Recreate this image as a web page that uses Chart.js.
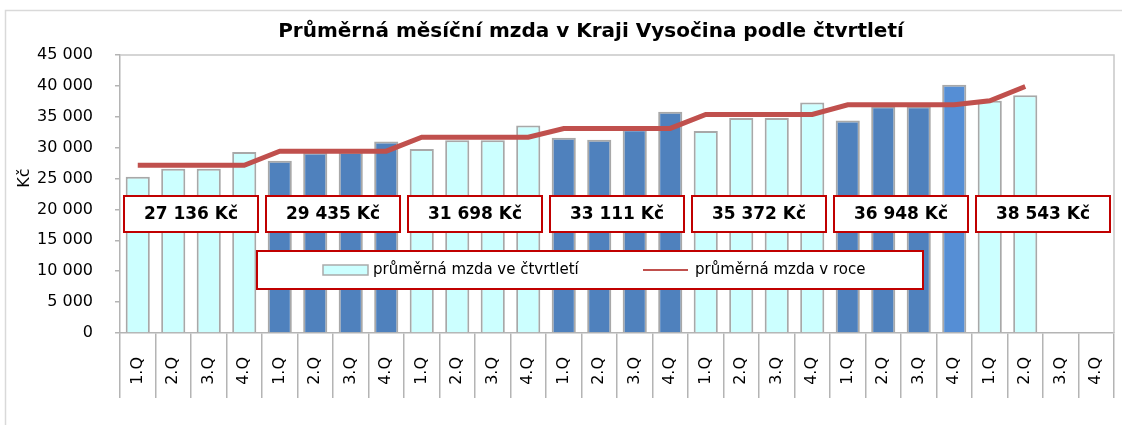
<!DOCTYPE html>
<html>
<head>
<meta charset="utf-8">
<script src="https://cdn.jsdelivr.net/npm/chart.js@4.4.1/dist/chart.umd.min.js"></script>
<style>
  html, body { margin: 0; padding: 0; background: #fff; }
</style>
</head>
<body>
<canvas id="wageChart" width="1122" height="425"></canvas>
<script>
const chartTitle = "Průměrná měsíční mzda v Kraji Vysočina podle čtvrtletí";
const axisTitle = "Kč";
const barLabel = "průměrná mzda ve čtvrtletí";
const lineLabel = "průměrná mzda v roce";

const quarterLabels = [
    "1.Q", "2.Q", "3.Q", "4.Q", "1.Q", "2.Q", "3.Q", "4.Q",
    "1.Q", "2.Q", "3.Q", "4.Q", "1.Q", "2.Q", "3.Q", "4.Q",
    "1.Q", "2.Q", "3.Q", "4.Q", "1.Q", "2.Q", "3.Q", "4.Q",
    "1.Q", "2.Q", "3.Q", "4.Q"
];

// quarterly average wage (bars)
const quarterlyWage = [
    25300, 26600, 26600, 29300,
    27900, 29200, 29300, 31000,
    29800, 31200, 31200, 33600,
    31600, 31300, 33000, 35800,
    32700, 34800, 34800, 37300,
    34400, 36700, 36700, 40200,
    37600, 38500, null, null
];

// yearly average wage (line)
const annualLine = [
    27136, 27136, 27136, 27136,
    29435, 29435, 29435, 29435,
    31698, 31698, 31698, 31698,
    33111, 33111, 33111, 33111,
    35372, 35372, 35372, 35372,
    36948, 36948, 36948, 36948,
    37600, 39900, null, null
];

// boxed yearly figures
const annualAverage = [27136, 29435, 31698, 33111, 35372, 36948, 38543];

const yMax = 45000;
const yStep = 5000;

function fmt(v) {
    return String(v).replace(/\B(?=(\d{3})+(?!\d))/g, " ");
}

const LIGHT = "#ccffff";
const DARK = "#4f81bd";
const HILITE = "#558ed5";
const barColors = quarterlyWage.map((v, i) => {
    if (i === 23) return HILITE;
    return Math.floor(i / 4) % 2 === 1 ? DARK : LIGHT;
});

Chart.defaults.font.family = "'DejaVu Sans', sans-serif";
Chart.defaults.color = "#000";

const decor = {
    id: "decor",
    beforeDraw(chart) {
        const ctx = chart.ctx;
        ctx.save();
        ctx.fillStyle = "#fff";
        ctx.fillRect(0, 0, chart.width, chart.height);
        ctx.strokeStyle = "#d9d9d9";
        ctx.lineWidth = 1.5;
        ctx.strokeRect(5.5, 10.5, chart.width + 20, chart.height + 20);
        ctx.restore();
    },
    afterDatasetsDraw(chart) {
        const {ctx, chartArea: a, scales: {x}} = chart;
        ctx.save();
        // plot frame top/right
        ctx.strokeStyle = "#c8c8c8";
        ctx.lineWidth = 1.5;
        ctx.beginPath();
        ctx.moveTo(a.left, a.top);
        ctx.lineTo(a.right, a.top);
        ctx.lineTo(a.right, a.bottom);
        ctx.stroke();

        // yearly boxes
        ctx.font = "bold 17px 'DejaVu Sans'";
        ctx.textAlign = "center";
        ctx.textBaseline = "middle";
        annualAverage.forEach((v, k) => {
            const cx = (x.getPixelForValue(4 * k + 1) + x.getPixelForValue(4 * k + 2)) / 2;
            const w = 134, h = 36, top = a.top + 141;
            ctx.fillStyle = "#fff";
            ctx.fillRect(cx - w / 2, top, w, h);
            ctx.strokeStyle = "#c00000";
            ctx.lineWidth = 2;
            ctx.strokeRect(cx - w / 2, top, w, h);
            ctx.fillStyle = "#000";
            ctx.fillText(fmt(v) + " Kč", cx, top + h / 2 + 1);
        });

        // legend box
        ctx.fillStyle = "#fff";
        ctx.fillRect(257, 251, 666, 38);
        ctx.strokeStyle = "#c00000";
        ctx.lineWidth = 2;
        ctx.strokeRect(257, 251, 666, 38);
        ctx.fillStyle = LIGHT;
        ctx.fillRect(323, 265, 45, 10);
        ctx.strokeStyle = "#aaaaaa";
        ctx.lineWidth = 1.5;
        ctx.strokeRect(323, 265, 45, 10);
        ctx.strokeStyle = "#c0504d";
        ctx.lineWidth = 2;
        ctx.beginPath();
        ctx.moveTo(643, 270);
        ctx.lineTo(688, 270);
        ctx.stroke();
        ctx.font = "15px 'DejaVu Sans'";
        ctx.textAlign = "left";
        ctx.fillStyle = "#000";
        ctx.fillText(barLabel, 373, 270);
        ctx.fillText(lineLabel, 695, 270);
        ctx.restore();
    },
    afterDraw(chart) {
        const ctx = chart.ctx;
        ctx.save();
        ctx.fillStyle = "#000";
        ctx.textAlign = "center";
        ctx.textBaseline = "middle";
        ctx.font = "bold 20px 'DejaVu Sans'";
        ctx.fillText(chartTitle, 591, 32);
        ctx.translate(25, 178);
        ctx.rotate(-Math.PI / 2);
        ctx.font = "16px 'DejaVu Sans'";
        ctx.fillText(axisTitle, 0, 0);
        ctx.restore();
    }
};

const wageChart = new Chart(document.getElementById("wageChart"), {
    data: {
        labels: quarterLabels,
        datasets: [
            {
                type: "line",
                label: lineLabel,
                data: annualLine,
                borderColor: "#c0504d",
                borderWidth: 5,
                pointRadius: 0,
                tension: 0,
                order: 0
            },
            {
                type: "bar",
                label: barLabel,
                data: quarterlyWage,
                backgroundColor: barColors,
                borderColor: "#a8a8a8",
                borderWidth: 2,
                barPercentage: 0.68,
                categoryPercentage: 1,
                order: 1
            }
        ]
    },
    options: {
        responsive: false,
        animation: false,
        layout: {padding: {top: 55, right: 8, bottom: 0, left: 0}},
        plugins: {
            legend: {display: false},
            tooltip: {enabled: false},
            title: {display: false}
        },
        scales: {
            x: {
                grid: {offset: true, drawOnChartArea: false, tickLength: 65, color: "#b4b4b4", lineWidth: 1.5},
                border: {color: "#b4b4b4", width: 1.5},
                ticks: {autoSkip: false, maxRotation: 90, minRotation: 90, padding: -41, font: {size: 16}},
                afterFit(s) { s.height = 92; }
            },
            y: {
                min: 0,
                max: yMax,
                grid: {drawOnChartArea: false, tickLength: 5, color: "#b4b4b4", lineWidth: 1.5},
                border: {color: "#b4b4b4", width: 1.5},
                ticks: {stepSize: yStep, padding: 22, font: {size: 16}, callback: v => fmt(v)},
                afterFit(s) { s.width = 120; }
            }
        }
    },
    plugins: [decor]
});
</script>
</body>
</html>
